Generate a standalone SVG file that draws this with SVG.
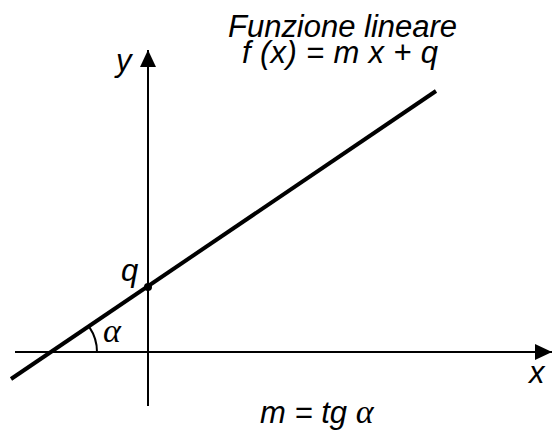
<svg xmlns="http://www.w3.org/2000/svg" width="554" height="430" viewBox="0 0 554 430">
<style>
.t{font-family:"Liberation Sans",Arial,sans-serif;font-style:italic;fill:#000}
.g{font-family:"Liberation Serif","Times New Roman",serif;font-style:italic;fill:#000}
.ax{stroke:#000;stroke-width:2;fill:none}
</style>
<defs>
<marker id="ah" markerUnits="userSpaceOnUse" markerWidth="18" markerHeight="16" refX="17" refY="8" orient="auto">
<path d="M0,0 L17,8 L0,16 Z" fill="#000"/>
</marker>
</defs>
<rect width="554" height="430" fill="#fff"/>
<g id="connectors">
<line id="x-axis" class="ax" x1="15" y1="352" x2="552" y2="352" marker-end="url(#ah)"/>
<line id="y-axis" class="ax" x1="148" y1="406" x2="148" y2="50" marker-end="url(#ah)"/>
<line id="graph" x1="11" y1="379" x2="436" y2="91" stroke="#000" stroke-width="4"/>
<path id="angle" class="ax" d="M97,352 A44,44 0 0 0 89.5,327.4"/>
</g>
<g id="point-q">
<circle cx="148" cy="287" r="4" fill="#000"/>
<text class="t" x="121" y="281" font-size="31">q</text>
</g>
<g id="labels">
<text class="t" x="116" y="71" font-size="31">y</text>
<text class="t" x="529" y="383" font-size="31">x</text>
<text class="g" x="103" y="342" font-size="34">α</text>
<text class="t" x="228" y="37" font-size="31" textLength="229" lengthAdjust="spacing">Funzione lineare</text>
<text class="t" x="242" y="63" font-size="31" textLength="196" lengthAdjust="spacing">f (x) = m x + q</text>
<text class="t" x="260" y="423" font-size="31">m = tg <tspan class="g" font-size="34">α</tspan></text>
</g>
</svg>
